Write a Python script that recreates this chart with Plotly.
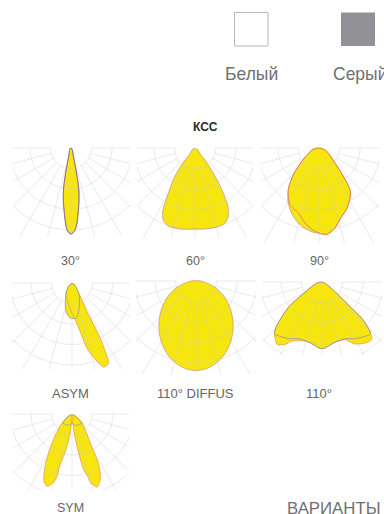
import numpy as np
import plotly.graph_objects as go

W, H = 384, 514

# Grid of each diagram
ARC_RADII = [20.5, 41, 61.5, 82]
SPOKE_ANGLES = [-90, -75, -60, -45, -30, -15, 0, 15, 30, 45, 60, 75, 90]

# Luminous intensity curves: angle from nadir (deg), intensity (relative units)
t30_a = [60, 15.5, 12.4, 10.5, 8.1, 6.1, 4.3, 2.4, 0, -2.4, -4.1, -5.9, -7.9, -10.3, -12.2, -15.3, -60, 60]
r30_a = [0.8, 9.3, 25.6, 42.7, 55.5, 65.4, 76.2, 83, 86, 83, 76.2, 65.4, 55.5, 42.7, 25.6, 9.3, 0.8, 0.8]
t30_b = [60, 15.7, 12.6, 10.7, 8.3, 6.3, 4.5, 2.5, 0, -2.3, -3.9, -5.7, -7.7, -10.1, -12, -15, -60, 60]
r30_b = [0.8, 9.3, 25.6, 42.7, 55.5, 65.4, 76.2, 83, 86, 83, 76.2, 65.4, 55.5, 42.7, 25.6, 9.3, 0.8, 0.8]

t60_a = [65, 40.4, 39.8, 35.5, 32.2, 29.4, 26.1, 21.8, 15.4, 5.9, 0, -10.5, -18.9, -23.8, -27.1, -29.5, -35.5, -39.8, -40.4, -65, 65]
r60_a = [2, 8.8, 15.6, 34.4, 53.2, 66.6, 75.7, 80.8, 81.9, 81.4, 81, 82.4, 82.4, 78.7, 70.8, 57.5, 34.4, 15.6, 8.8, 2, 2]

t90_a = [80, 66.8, 46.8, 40.6, 36.6, 31.8, 24.8, 16.7, 11.3, 5.1, -0.5, -3.9, -12.5, -21.8, -29.2, -36.4, -43.9, -52.4, -72.5, -85, 80]
r90_a = [3, 8.4, 21.9, 37.3, 52, 59, 66.5, 74, 81.6, 86.3, 85, 84.5, 80.2, 71.8, 63, 51.8, 37, 21.8, 7.7, 3, 3]
t90_b = [80, 66.8, 46.8, 40.6, 36.6, 31.8, 24.8, 16.7, 11.3, 5.1, -2.7, -10.6, -17.7, -27.1, -36.4, -43.9, -52.4, -72.5, -85, 80]
r90_b = [3, 8.4, 21.9, 37.3, 52, 59, 66.5, 74, 81.6, 87, 83.4, 76.3, 68.2, 63.7, 51.8, 37, 21.8, 7.7, 3, 3]

tas_a = [60, 33.7, 27.6, 27.3, 25.5, 24.6, 20.7, 17.7, 13, 8.5, -8.6, -29.7, -50, 60]
ras_a = [1.2, 12, 33.9, 58.2, 81.2, 88, 89.8, 82.2, 66.7, 45.5, 22, 11.5, 3.5, 1.2]
tas_b = [60, 33.7, 17.4, 7, -2.8, -12, -31, -50, 60]
ras_b = [1.2, 12, 24.4, 35.3, 35, 28.9, 11.7, 3.5, 1.2]

tdf_a = [90, 81, 72, 63.5, 55.2, 47.3, 39.8, 32.5, 25.7, 19, 12.6, 6.2, 0, -6.2, -12.6, -19, -25.7, -32.5, -39.8, -47.3, -55.2, -63.5, -72, -81, -90, 90]
rdf_a = [5, 9.7, 19.5, 29.4, 39.2, 48.8, 58.2, 66.8, 74.4, 80.7, 85.4, 88.4, 89.4, 88.4, 85.4, 80.7, 74.4, 66.8, 58.2, 48.8, 39.2, 29.4, 19.5, 9.7, 5, 5]

t110_a = [70, 53, 48.9, 47.5, 45, 41.4, 39.3, 32.9, 27.2, 22, 12.5, 0, -12.5, -21.8, -27, -30.5, -35.8, -39.5, -42.7, -46.1, -53.1, -59, -78.7, 70]
r110_a = [1.5, 16.7, 35.4, 54.3, 66, 75.6, 76.2, 73.5, 69.4, 62.2, 61.5, 66.7, 61.5, 62.8, 66.2, 72.3, 76.9, 73.5, 70.3, 62.5, 41.6, 19.5, 5.1, 1.5]
t110_b = [70, 53, 48.9, 47.5, 45, 43, 30.4, 22.3, 12.5, 0, -12.5, -22.3, -30.4, -40.2, -42.7, -46.1, -53.1, -59, -78.7, 70]
r110_b = [1.5, 16.7, 35.4, 54.3, 66, 70.8, 65.7, 61.3, 61.5, 66.7, 61.5, 61.3, 65.7, 69.8, 70.3, 62.5, 41.6, 19.5, 5.1, 1.5]

tsy_a = [60, 48, 32.3, 27.8, 24.5, 21.8, 18.9, 15.4, 14.1, 11.9, 8.8, 5.3, 60]
rsy_a = [2, 13.5, 34.3, 57.3, 68.5, 74, 77.2, 71.6, 64.2, 56.9, 32.7, 10.7, 2]
tsy_b = [-60, -3.7, -8.8, -13.4, -13.5, -15.4, -19.1, -22.5, -24.5, -27.8, -34.6, -48, -60]
rsy_b = [2, 10.7, 32.7, 55, 64.1, 71.6, 76.5, 73, 67.5, 57.3, 35.2, 13.5, 2]
tsy_c = [60, 51, 48, 16.3, 0, -16.3, -45, -51, -60, 60]
rsy_c = [1.5, 6.4, 13.5, 11.8, 9.7, 11.8, 12.7, 6.4, 1.5, 1.5]

YELLOW = "#F6E60E"
GRID = "rgba(205,205,205,0.42)"
PURPLE = "#7A6AB0"
ORANGE = "#EC9A50"
GREYLN = "#9A9A90"
RED = "#DE7A50"
ROSE = "#CC9A88"

panels = [
    dict(cx=71, cy=148, left=58, right=59, bottom=88, label="30°",
         curves=[(t30_b, r30_b, RED), (t30_a, r30_a, PURPLE)]),
    dict(cx=195, cy=148, left=58, right=58, bottom=90, label="60°",
         curves=[(t60_a, r60_a, ROSE)]),
    dict(cx=319, cy=148, left=58, right=60, bottom=95, label="90°",
         curves=[(t90_a, r90_a, ROSE), (t90_b, r90_b, RED)]),
    dict(cx=72, cy=283, left=60, right=58, bottom=86, label="ASYM",
         curves=[(tas_a, ras_a, ORANGE), (tas_b, ras_b, GREYLN)]),
    dict(cx=196, cy=281, left=60, right=60, bottom=94, label="110° DIFFUS",
         curves=[(tdf_a, rdf_a, ROSE)]),
    dict(cx=322, cy=282, left=60, right=60, bottom=73, label="110°",
         curves=[(t110_a, r110_a, ORANGE), (t110_b, r110_b, "#9A90A8")]),
    dict(cx=72, cy=414, left=59, right=57, bottom=76, label="SYM",
         curves=[(tsy_a, rsy_a, ORANGE), (tsy_b, rsy_b, ORANGE), (tsy_c, rsy_c, GREYLN)]),
]
label_y = {0: 261, 1: 261, 2: 261, 3: 393, 4: 393, 5: 393, 6: 507.5}
label_x = [70, 195, 319, 70, 195, 319, 70]


def to_xy(theta, r):
    a = np.radians(np.array(theta, dtype=float))
    r = np.array(r, dtype=float)
    return r * np.sin(a), r * np.cos(a)


fig = go.Figure()
layout = {}
SM = 0.8
for i, p in enumerate(panels):
    n = "" if i == 0 else str(i + 1)
    xa, ya = f"x{n}", f"y{n}"
    # filled lobes
    for th, r, col in p["curves"]:
        x, y = to_xy(th, r)
        fig.add_trace(go.Scatter(x=x, y=y, xaxis=xa, yaxis=ya, mode="lines",
                                 line=dict(color=YELLOW, width=0, shape="spline", smoothing=SM),
                                 fill="toself", fillcolor=YELLOW, hoverinfo="skip"))
    # grid above the fill
    for rad in ARC_RADII:
        ang = np.arange(-90, 91, 3)
        x, y = to_xy(ang, np.full(ang.shape, rad))
        fig.add_trace(go.Scatter(x=x, y=y, xaxis=xa, yaxis=ya, mode="lines",
                                 line=dict(color=GRID, width=1), hoverinfo="skip"))
    for ang in SPOKE_ANGLES:
        x, y = to_xy([ang, ang], [ARC_RADII[0], 200])
        fig.add_trace(go.Scatter(x=x, y=y, xaxis=xa, yaxis=ya, mode="lines",
                                 line=dict(color=GRID, width=1), hoverinfo="skip"))
    # curve outlines
    for th, r, col in p["curves"]:
        x, y = to_xy(th, r)
        fig.add_trace(go.Scatter(x=x, y=y, xaxis=xa, yaxis=ya, mode="lines",
                                 line=dict(color=col, width=0.8, shape="spline", smoothing=SM),
                                 hoverinfo="skip"))
    layout[f"xaxis{n}"] = dict(domain=[(p["cx"] - p["left"]) / W, (p["cx"] + p["right"]) / W],
                               range=[-p["left"], p["right"]], visible=False, fixedrange=True,
                               anchor=ya)
    layout[f"yaxis{n}"] = dict(domain=[1 - (p["cy"] + p["bottom"]) / H, 1 - (p["cy"] - 1) / H],
                               range=[p["bottom"], -1], visible=False, fixedrange=True,
                               anchor=xa)

FONT = "Liberation Sans"


def label(text, x, y, size, color="#666666", anchor="center", bold=False):
    return dict(text=f"<b>{text}</b>" if bold else text, x=x / W, y=1 - y / H, xref="paper", yref="paper",
                xanchor=anchor, yanchor="middle", showarrow=False, borderpad=0,
                font=dict(family=FONT, size=size, color=color))


annotations = [label(p["label"], label_x[i], label_y[i], 13 if len(p["label"]) > 3 else 12.5)
               for i, p in enumerate(panels)]
annotations += [
    label("КСС", 205, 127, 12, "#2a2a2a", bold=True),
    label("Белый", 251, 74, 17.5, "#707070"),
    label("Серый", 332, 74, 17.5, "#707070", anchor="left"),
    label("ВАРИАНТЫ", 286, 508, 16.8, "#707070", anchor="left"),
]

shapes = [
    dict(type="rect", xref="paper", yref="paper", x0=234.5 / W, x1=268 / W, y0=1 - 46 / H, y1=1 - 12.5 / H,
         line=dict(color="#b8b8b8", width=1), fillcolor="#ffffff"),
    dict(type="rect", xref="paper", yref="paper", x0=341 / W, x1=375 / W, y0=1 - 46 / H, y1=1 - 12.5 / H,
         line=dict(width=0), fillcolor="#929296"),
]

fig.update_layout(width=W, height=H, margin=dict(l=0, r=0, t=0, b=0), showlegend=False,
                  paper_bgcolor="white", plot_bgcolor="rgba(0,0,0,0)",
                  annotations=annotations, shapes=shapes, **layout)
fig.write_html("out.html", config={"displayModeBar": False},
               post_script="document.body.style.margin='0';")
